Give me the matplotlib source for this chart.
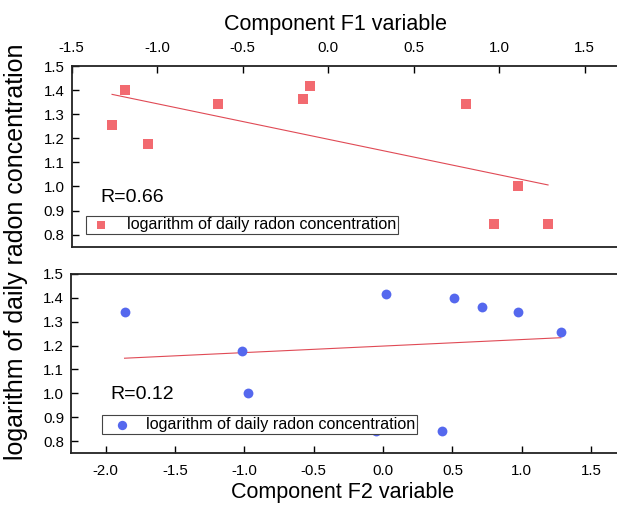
import numpy as np
import matplotlib.pyplot as plt

plt.rcParams['font.family'] = ['Liberation Sans', 'DejaVu Sans']

# ---------- data ----------
f1_x = [-1.263, -1.189, -1.053, -0.641, -0.145, -0.106, 0.809, 0.970, 1.113, 1.286]
f1_y = [1.256, 1.400, 1.177, 1.343, 1.363, 1.415, 1.343, 0.844, 1.000, 0.844]
f1_fit = (1.196, -0.1475)   # intercept, slope of the drawn line
f1_r = "R=0.66"

f2_x = [-1.864, -1.019, -0.971, -0.053, 0.024, 0.423, 0.508, 0.713, 0.976, 1.282]
f2_y = [1.342, 1.178, 1.000, 0.843, 1.416, 0.844, 1.399, 1.363, 1.342, 1.255]
f2_fit = (1.198, 0.0273)
f2_r = "R=0.12"

series_label = "logarithm of daily radon concentration"
y_ticks = [0.8, 0.9, 1.0, 1.1, 1.2, 1.3, 1.4, 1.5]
f1_ticks = [-1.5, -1.0, -0.5, 0.0, 0.5, 1.0, 1.5]
f2_ticks = [-2.0, -1.5, -1.0, -0.5, 0.0, 0.5, 1.0, 1.5]

red = "#F26A70"
blue = "#5568EE"
line_red = "#E04A55"


def style_axes(ax, xticks, ylim=(0.75, 1.5)):
    ax.set_ylim(*ylim)
    ax.set_yticks(y_ticks)
    ax.set_yticklabels([f"{v:.1f}" for v in y_ticks])
    ax.set_xticks(xticks)
    ax.set_xticklabels([f"{v:.1f}" for v in xticks])
    ax.tick_params(direction="in", length=5, width=1.0, labelsize=10.8, pad=8)
    ax.tick_params(axis="y", pad=5)
    ax.spines["right"].set_visible(False)
    for s in ax.spines.values():
        s.set_linewidth(1.3)
        s.set_color("#222222")


fig = plt.figure(figsize=(6.17, 5.07), dpi=100)

# ---------- top panel: F1 ----------
ax1 = fig.add_axes([0.1159, 0.5134, 0.8871, 0.3564])
ax1.scatter(f1_x, f1_y, marker="s", s=46, color=red, linewidths=0, label=series_label, zorder=3)
xs = np.array([min(f1_x), max(f1_x)])
ax1.plot(xs, f1_fit[0] + f1_fit[1] * xs, color=line_red, lw=0.8)
ax1.set_xlim(-1.5, 1.7)
style_axes(ax1, f1_ticks)
ax1.xaxis.tick_top()
ax1.text(0.052, 0.27, f1_r, transform=ax1.transAxes, fontsize=14, va="center", ha="left")
leg1 = ax1.legend(loc="lower left", bbox_to_anchor=(0.026, 0.068), borderaxespad=0,
                  fontsize=11.6, fancybox=False, framealpha=1, edgecolor="#444444",
                  borderpad=0.12, handlelength=1.7, handletextpad=0.75, markerscale=0.95)
leg1.get_frame().set_linewidth(0.8)

# ---------- bottom panel: F2 ----------
ax2 = fig.add_axes([0.1151, 0.1065, 0.8879, 0.3531])
ax2.scatter(f2_x, f2_y, marker="o", s=50, color=blue, linewidths=0, label=series_label, zorder=3)
xs = np.array([min(f2_x), max(f2_x)])
ax2.plot(xs, f2_fit[0] + f2_fit[1] * xs, color=line_red, lw=0.8)
ax2.set_xlim(-2.25, 1.7)
style_axes(ax2, f2_ticks)
ax2.text(0.071, 0.325, f2_r, transform=ax2.transAxes, fontsize=14, va="center", ha="left")
leg2 = ax2.legend(loc="lower left", bbox_to_anchor=(0.057, 0.106), borderaxespad=0,
                  fontsize=11.6, fancybox=False, framealpha=1, edgecolor="#444444",
                  borderpad=0.12, handlelength=2.2, handletextpad=0.4, markerscale=0.95)
leg2.get_frame().set_linewidth(0.8)
leg2.set_zorder(5)

# ---------- axis titles ----------
fig.text(0.543, 0.951, "Component F1 variable", fontsize=15.5, ha="center", va="center")
fig.text(0.556, 0.028, "Component F2 variable", fontsize=15.5, ha="center", va="center")
fig.text(0.026, 0.503, "logarithm of daily radon concentration", fontsize=18,
         rotation=90, ha="center", va="center")

fig.savefig("out.png", dpi=100)
